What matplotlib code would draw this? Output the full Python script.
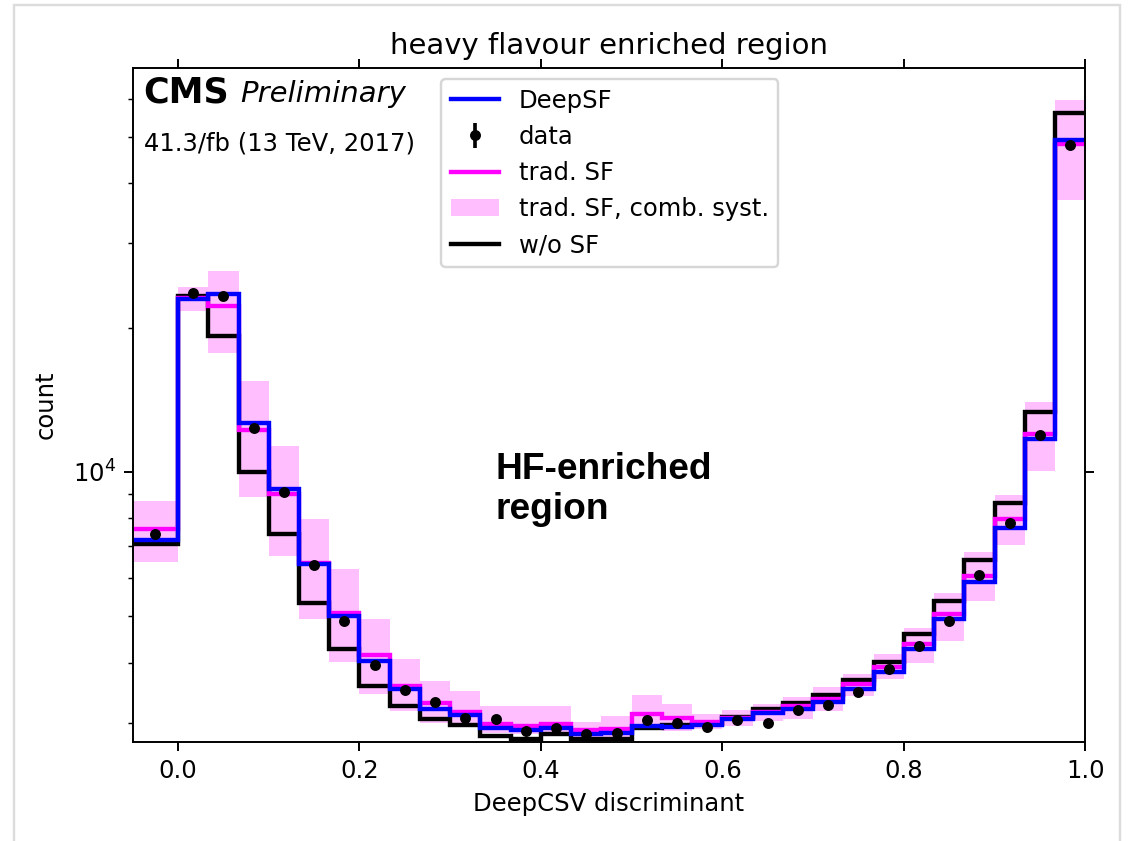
import numpy as np
import matplotlib.pyplot as plt
from matplotlib.patches import Rectangle

# bin edges: one underflow bin, then 30 bins on [0, 1]
edges = np.concatenate([[-0.05], np.linspace(0, 1, 31)])
centers = 0.5 * (edges[:-1] + edges[1:])

deepsf = [7209, 22954, 23510, 12660, 9195, 6418, 5007, 4036, 3535, 3212, 3114,
          2932, 2898, 2932, 2848, 2852, 2957, 2946, 2964, 3051, 3140, 3201,
          3316, 3523, 3827, 4282, 4945, 5904, 7653, 11687, 49120]
trad_sf = [7616, 23020, 22230, 12220, 8978, 6449, 5089, 4148, 3579, 3295, 3166,
           2979, 2954, 2979, 2898, 2907, 3135, 3062, 3012, 3066, 3166, 3251,
           3358, 3608, 3928, 4386, 5048, 6066, 7962, 11970, 48350]
no_sf = [7063, 23320, 19190, 10010, 7409, 5340, 4268, 3579, 3251, 3051, 2969,
         2815, 2781, 2838, 2771, 2781, 2932, 2964, 2988, 3085, 3201, 3295,
         3423, 3678, 4023, 4586, 5381, 6541, 8597, 13320, 56010]
data = [7433, 23620, 23320, 12360, 9086, 6402, 4888, 3959, 3506, 3316, 3062,
        3051, 2884, 2932, 2838, 2852, 3041, 3003, 2946, 3041, 2992, 3190,
        3267, 3484, 3877, 4336, 4888, 6087, 7839, 11914, 47950]
syst_up = [8693, 24270, 26290, 15460, 11320, 7962, 6263, 4928, 4069, 3666, 3495,
           3251, 3246, 3246, 3012, 3099, 3423, 3277, 3125, 3190, 3277, 3391,
           3557, 3785, 4168, 4735, 5603, 6807, 8933, 13980, 59510]
syst_dn = [6490, 21630, 17740, 8879, 6690, 4928, 4016, 3439, 3175, 3003, 2954,
           2862, 2838, 2838, 2749, 2758, 2921, 2884, 2917, 2954, 3027, 3051,
           3175, 3412, 3696, 4004, 4441, 5381, 7029, 10038, 36850]

fig = plt.figure(figsize=(1134 / 175, 841 / 175), dpi=175)
ax = fig.add_axes([0.117, 0.118, 0.840, 0.801])

band = ax.stairs(syst_up, edges, baseline=syst_dn, fill=True, color='magenta',
                 alpha=0.25, lw=0, label='trad. SF, comb. syst.')
l_nosf = ax.stairs(no_sf, edges, baseline=None, color='black', lw=1.8, label='w/o SF')
l_trad = ax.stairs(trad_sf, edges, baseline=None, color='magenta', lw=1.8, label='trad. SF')
l_deep = ax.stairs(deepsf, edges, baseline=None, color='blue', lw=1.8, label='DeepSF')
d = np.array(data, dtype=float)
h_data = ax.errorbar(centers, d, yerr=np.sqrt(d), fmt='o', color='black',
                     markersize=3.5, lw=1.5, label='data', zorder=5)

ax.set_yscale('log')
ax.set_xlim(-0.05, 1.0)
ax.set_ylim(2738, 69500)
ax.set_xticks([0.0, 0.2, 0.4, 0.6, 0.8, 1.0])
ax.tick_params(which='major', top=True, right=True)
ax.set_xlabel('DeepCSV discriminant')
ax.set_ylabel('count', labelpad=6)
ax.set_title('heavy flavour enriched region')

ax.legend([l_deep, h_data, l_trad, band, l_nosf],
          ['DeepSF', 'data', 'trad. SF', 'trad. SF, comb. syst.', 'w/o SF'],
          loc='upper left', bbox_to_anchor=(0.3235, 0.9837), borderaxespad=0)

ax.text(0.0116, 0.9496, 'CMS', transform=ax.transAxes, fontsize=14.4,
        fontweight='bold', va='baseline')
ax.text(0.1134, 0.9496, 'Preliminary', transform=ax.transAxes, fontsize=12,
        style='italic', va='baseline')
ax.text(0.0116, 0.877, '41.3/fb (13 TeV, 2017)', transform=ax.transAxes,
        fontsize=10, va='baseline')

ax.text(0.381, 0.390, 'HF-enriched', transform=ax.transAxes, fontsize=15.3,
        fontweight='bold', family='Liberation Sans', va='baseline')
ax.text(0.381, 0.331, 'region', transform=ax.transAxes, fontsize=15.3,
        fontweight='bold', family='Liberation Sans', va='baseline')

# slide frame around the plot
fig.patches.append(Rectangle((0.0123, -0.01), 0.975, 1.004, transform=fig.transFigure,
                             fill=False, edgecolor='#dcdcdc', lw=1.0))

fig.savefig('out.png', dpi=175)
